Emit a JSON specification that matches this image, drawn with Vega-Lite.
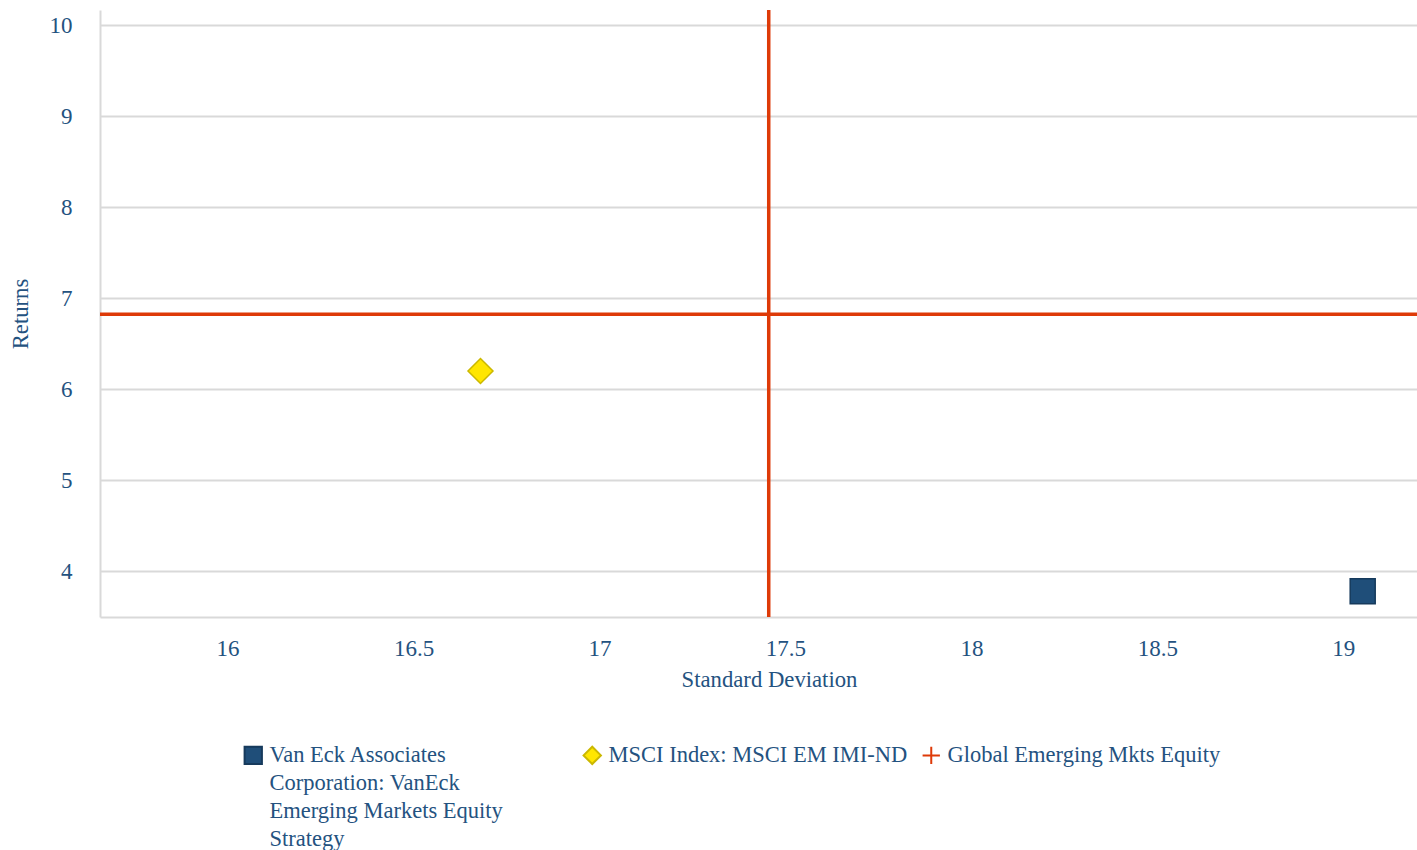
{
  "$schema": "https://vega.github.io/schema/vega-lite/v6.json",
  "width": 1317,
  "height": 607,
  "autosize": {"type": "none"},
  "padding": {"left": 100, "top": 10, "right": 0, "bottom": 233},
  "background": "white",
  "config": {
    "view": {"stroke": null},
    "font": "Liberation Serif",
    "style": {"guide-label": {"lineHeight": 28}},
    "axis": {
      "labelFont": "Liberation Serif",
      "titleFont": "Liberation Serif",
      "labelColor": "#24527f",
      "titleColor": "#24527f",
      "labelFontSize": 23,
      "titleFontSize": 22.7,
      "titleFontWeight": "normal",
      "domainColor": "#d9d9d9",
      "domainWidth": 2,
      "gridColor": "#d9d9d9",
      "gridWidth": 2,
      "ticks": false
    },
    "legend": {
      "labelFont": "Liberation Serif",
      "labelFontSize": 22.5,
      "labelColor": "#24527f",
      "padding": 0
    }
  },
  "data": {
    "values": [
      {"series": "Van Eck Associates Corporation: VanEck Emerging Markets Equity Strategy", "sd": 19.052, "ret": 3.784},
      {"series": "MSCI Index: MSCI EM IMI-ND", "sd": 16.68, "ret": 6.201},
      {"series": "Global Emerging Mkts Equity", "sd": 17.455, "ret": 6.824}
    ]
  },
  "layer": [
    {
      "transform": [{"filter": "datum.series == 'Global Emerging Mkts Equity'"}],
      "mark": {"type": "rule", "color": "#de3a08", "strokeWidth": 3.5},
      "encoding": {"x": {"field": "sd", "type": "quantitative"}}
    },
    {
      "transform": [{"filter": "datum.series == 'Global Emerging Mkts Equity'"}],
      "mark": {"type": "rule", "color": "#de3a08", "strokeWidth": 3.5},
      "encoding": {"y": {"field": "ret", "type": "quantitative"}}
    },
    {
      "mark": {"type": "point", "filled": false, "size": 625, "strokeWidth": 1.5, "opacity": 1},
      "encoding": {
        "x": {
          "field": "sd", "type": "quantitative",
          "scale": {"domain": [15.657, 19.198], "zero": false, "nice": false},
          "axis": {"title": "Standard Deviation", "values": [16, 16.5, 17, 17.5, 18, 18.5, 19], "grid": false, "labelPadding": 20, "titlePadding": 8, "titleX": 669, "titleAlign": "center", "format": "~g"}
        },
        "y": {
          "field": "ret", "type": "quantitative",
          "scale": {"domain": [3.5, 10.165], "zero": false, "nice": false},
          "axis": {"title": "Returns", "values": [4, 5, 6, 7, 8, 9, 10], "format": "d", "labelPadding": 28, "titlePadding": 17}
        },
        "shape": {
          "field": "series", "type": "nominal",
          "scale": {
            "domain": ["Van Eck Associates Corporation: VanEck Emerging Markets Equity Strategy", "MSCI Index: MSCI EM IMI-ND", "Global Emerging Mkts Equity"],
            "range": ["square", "diamond", "M-1,0H1M0,-1V1"]
          },
          "legend": {
            "title": null,
            "orient": "none",
            "legendX": 142,
            "legendY": 734,
            "direction": "horizontal",
            "columns": 3,
            "gridAlign": "all",
            "columnPadding": 10,
            "symbolSize": 300,
            "symbolStrokeWidth": 2,
            "labelOffset": 5,
            "labelLimit": 400,
            "labelBaseline": "middle",
            "labelExpr": "datum.label == 'Van Eck Associates Corporation: VanEck Emerging Markets Equity Strategy' ? ['Van Eck Associates', 'Corporation: VanEck', 'Emerging Markets Equity', 'Strategy'] : [datum.label, ' ', ' ', ' ']",
            "encode": {"labels": {"lineHeight": {"value": 28}}}
          }
        },
        "fill": {
          "field": "series", "type": "nominal",
          "scale": {
            "domain": ["Van Eck Associates Corporation: VanEck Emerging Markets Equity Strategy", "MSCI Index: MSCI EM IMI-ND", "Global Emerging Mkts Equity"],
            "range": ["#1f4e79", "#ffe600", "transparent"]
          },
          "legend": null
        },
        "stroke": {
          "field": "series", "type": "nominal",
          "scale": {
            "domain": ["Van Eck Associates Corporation: VanEck Emerging Markets Equity Strategy", "MSCI Index: MSCI EM IMI-ND", "Global Emerging Mkts Equity"],
            "range": ["#163a5c", "#cbb800", "#de3a08"]
          },
          "legend": null
        }
      }
    }
  ]
}
